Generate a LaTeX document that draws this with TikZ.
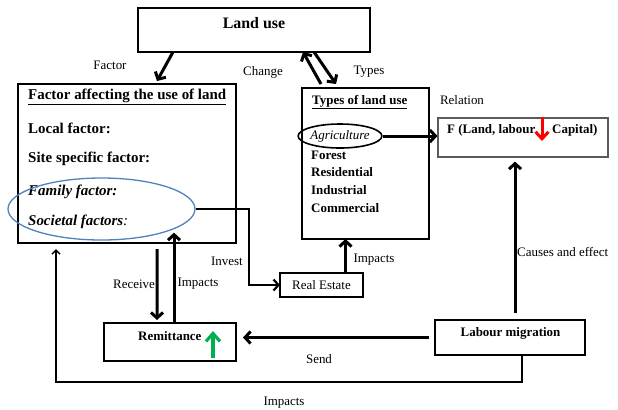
\documentclass[tikz,border=0pt]{standalone}
\usepackage{fontspec}
\setmainfont{Liberation Serif}
\usetikzlibrary{arrows.meta,shapes.geometric,calc}
\definecolor{ellblue}{RGB}{79,129,189}
\definecolor{fgray}{RGB}{90,90,90}
\definecolor{mygreen}{RGB}{0,176,80}
\begin{document}
\begin{tikzpicture}[x=1bp,y=-1bp,
  box/.style={draw, line width=1.9bp, inner sep=0pt, outer sep=0pt},
  lbl/.style={font=\fontsize{13}{13}\selectfont, inner sep=0pt},
  btxt/.style={font=\fontsize{13}{13}\selectfont\bfseries, inner sep=0pt, anchor=west},
  ltxt/.style={font=\fontsize{15}{15}\selectfont\bfseries, inner sep=0pt, anchor=west},
  thk/.style={line width=3bp, -{Straight Barb[length=5.5bp,width=12bp]}},
  med/.style={line width=2.2bp, -{Straight Barb[length=5bp,width=11bp]}},
  thn/.style={line width=1.5bp, -{Straight Barb[length=4bp,width=8bp]}}
]
\useasboundingbox (0,0) rectangle (618,409);

% boxes
\node[box, minimum width=232bp, minimum height=44bp] (land) at (254,30) {};
\node[font=\fontsize{16}{16}\selectfont\bfseries, inner sep=0pt] (landt) at (254,23) {Land use};

\node[box, minimum width=218bp, minimum height=159bp] (fac) at (127,163.5) {};
\node[ltxt] (f1) at (28,97) {\underline{Factor affecting the use of land}};
\node[ltxt] (f2) at (28,128) {Local factor:};
\node[ltxt] (f3) at (28,159) {Site specific factor:};
\node[ltxt, font=\fontsize{15}{15}\selectfont\bfseries\itshape] (f4) at (28,192) {Family factor:};
\node[ltxt, font=\fontsize{15}{15}\selectfont\bfseries\itshape] (f5) at (28,222) {Societal factors\textmd{:}};
\node[draw=ellblue, line width=1.3bp, ellipse, minimum width=187bp, minimum height=62bp, inner sep=0pt] (fam) at (101.5,209) {};

\node[box, minimum width=127bp, minimum height=151bp] (typ) at (365.5,163.5) {};
\node[btxt] (t1) at (312,102) {\underline{Types of land use}};
\node[draw, line width=1.6bp, ellipse, minimum width=75bp, minimum height=24bp, inner sep=0pt,
      font=\fontsize{13}{13}\selectfont\itshape] (agri) at (340,136) {Agriculture};
\node[btxt] (t2) at (311,155) {Forest};
\node[btxt] (t3) at (311,172) {Residential};
\node[btxt] (t4) at (311,190) {Industrial};
\node[btxt] (t5) at (311,208) {Commercial};

\node[draw=fgray, line width=1.1bp, inner sep=0pt, minimum width=170bp, minimum height=39bp] (fbox) at (523,137.5) {};
\node[btxt] (ft1) at (447,130) {F (Land, labour};
\node[btxt] (ft2) at (552,130) {Capital)};
\draw[red, line width=3bp, -{Straight Barb[length=7bp,width=13bp]}] (542,117) -- (542,141);

\node[box, line width=1.6bp, minimum width=83bp, minimum height=24bp, font=\fontsize{13}{13}\selectfont] (re) at (321.5,285) {Real Estate};

\node[box, minimum width=132bp, minimum height=38bp] (rem) at (170,342) {};
\node[btxt] (remt) at (138,336) {Remittance};
\draw[mygreen, line width=3.2bp, -{Straight Barb[length=8bp,width=14bp]}] (213,358) -- (213,331);

\node[box, minimum width=150bp, minimum height=35bp] (lab) at (510,337.5) {};
\node[font=\fontsize{13}{13}\selectfont\bfseries, inner sep=0pt] (labt) at (510.5,333) {Labour migration};

% connectors
\draw[thk] ([xshift=35bp]land.south west) -- ([xshift=139bp,yshift=3bp]fac.north west);
\draw[thk] ([xshift=19bp,yshift=4bp]typ.north west) -- ([xshift=-67bp]land.south east);
\draw[thk] ([xshift=-56bp]land.south east) -- ([xshift=34bp,yshift=4bp]typ.north west);
\draw[thk] (agri.east) -- (agri.east -| fbox.west);
\draw[thk] ([xshift=5bp,yshift=7bp]lab.north) -- ([xshift=5bp,yshift=-4bp]lab.north |- fbox.south);
\draw[thk] ([xshift=-6bp]lab.west) -- ([xshift=7bp]rem.east |- lab.west);
\draw[thk] ([xshift=30bp,yshift=-6bp]fac.south) -- ([xshift=-13bp,yshift=3bp]rem.north);
\draw[thk] ([xshift=4bp]rem.north) -- ([xshift=4bp,yshift=8bp]rem.north |- fam.south);
\draw[med] (fam.east) -- ++(53,0) |- (re.west);
\draw[thk] ([xshift=24bp]re.north) -- ([xshift=24bp]re.north |- typ.south);
\draw[thn] ([xshift=12bp]lab.south) -- ++(0,27) -| ([xshift=38bp,yshift=-6bp]fac.south west);

% labels
\node[lbl] (lf) at (110,65) {Factor};
\node[lbl] (lc) at (263,72) {Change};
\node[lbl] (lt) at (369,72) {Types};
\node[lbl] (lr) at (462,100) {Relation};
\node[lbl, anchor=west] (lce) at (517,252) {Causes and effect};
\node[lbl] (li1) at (374,260) {Impacts};
\node[lbl] (linv) at (227,261) {Invest};
\node[lbl] (lrec) at (134,284) {Receive};
\node[lbl] (li2) at (198,284) {Impacts};
\node[lbl] (ls) at (319,359) {Send};
\node[lbl] (li3) at (284,403) {Impacts};
\end{tikzpicture}
\end{document}
